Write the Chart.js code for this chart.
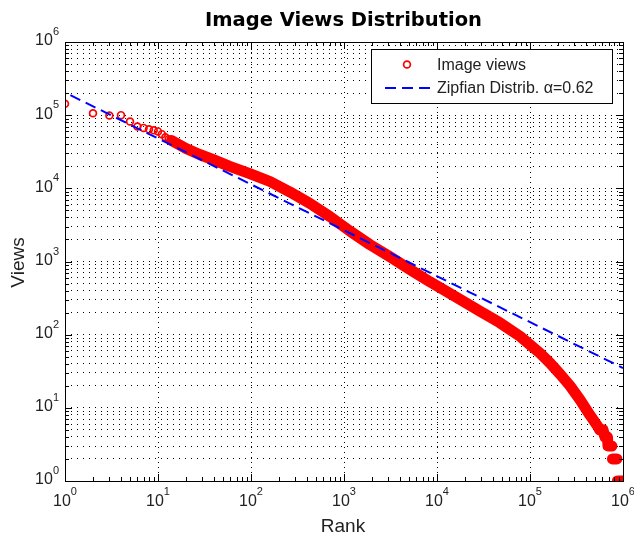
<!DOCTYPE html>
<html>
<head>
<meta charset="utf-8">
<script src="https://cdn.jsdelivr.net/npm/chart.js@4.4.0/dist/chart.umd.min.js"></script>
<style>
    html, body { margin: 0; padding: 0; background: #fff; }
    canvas { display: block; }
</style>
</head>
<body>
<canvas id="graficoViews" width="634" height="535"></canvas>
<script>
// Dados (rank x views)
const headRanks = [1, 2, 3, 4, 5, 6, 7, 8, 9, 10, 11, 12, 13];
const headViews = [143000, 106000, 99000, 100000, 82000, 70000, 67000, 64000, 62000, 60000, 55000, 50000, 47000];

const bodyRanks = [14, 20, 28, 40, 59, 97, 160, 263, 431, 707, 1160, 1900, 3120, 5130, 8400, 13800, 22600, 29000, 34500, 47500, 78000, 100000, 128000, 164000, 210000, 269000, 345000, 440000, 540000, 560000, 610000, 640000, 680000, 690000, 760000, 770000, 860000, 870000, 1000000];
const bodyViews = [45000, 35000, 29000, 24400, 20000, 15900, 12400, 8900, 6200, 4100, 2600, 1700, 1160, 777, 527, 365, 252, 209, 184, 145, 95, 73, 56, 41, 29, 20, 12.9, 8, 5.5, 5, 5, 4, 4, 3, 3, 2, 2, 1, 1];

const zipfRanks = [1, 1000000];
const zipfViews = [204000, 35];

// Eixos (expoentes das décadas e multiplicadores dos ticks menores)
const decadeExps = [0, 1, 2, 3, 4, 5, 6];
const minorMults = [2, 3, 4, 5, 6, 7, 8, 9];

const fonte = '"Liberation Sans", Arial, Helvetica, sans-serif';

function toPoints(xs, ys) {
    return xs.map((x, i) => ({ x: x, y: ys[i] }));
}

function logTicks() {
    const ticks = [];
    decadeExps.forEach(e => {
        ticks.push({ value: Math.pow(10, e), major: true });
        if (e < decadeExps[decadeExps.length - 1]) {
            minorMults.forEach(m => ticks.push({ value: m * Math.pow(10, e), major: false }));
        }
    });
    return ticks;
}

// Moldura, ticks internos, rótulos, título e legenda no estilo MATLAB
const estiloMatlab = {
    id: 'estiloMatlab',
    afterDraw(chart) {
        const { ctx, chartArea: a, scales: { x, y } } = chart;
        ctx.save();

        // caixa
        ctx.strokeStyle = '#000';
        ctx.lineWidth = 1;
        ctx.setLineDash([]);
        ctx.strokeRect(a.left + 0.5, a.top + 0.5, a.right - a.left, a.bottom - a.top);

        // ticks para dentro
        ctx.beginPath();
        x.ticks.forEach(t => {
            const px = Math.round(x.getPixelForValue(t.value)) + 0.5;
            const len = t.major ? 7 : 4;
            ctx.moveTo(px, a.bottom); ctx.lineTo(px, a.bottom - len);
            ctx.moveTo(px, a.top); ctx.lineTo(px, a.top + len);
        });
        y.ticks.forEach(t => {
            const py = Math.round(y.getPixelForValue(t.value)) + 0.5;
            const len = t.major ? 7 : 4;
            ctx.moveTo(a.left, py); ctx.lineTo(a.left + len, py);
            ctx.moveTo(a.right, py); ctx.lineTo(a.right - len, py);
        });
        ctx.stroke();

        // rótulos 10^n
        ctx.fillStyle = '#222';
        ctx.textBaseline = 'middle';
        decadeExps.forEach(e => {
            const exp = String(e);
            ctx.font = '16px ' + fonte;
            const w1 = ctx.measureText('10').width;
            ctx.font = '11px ' + fonte;
            const w2 = ctx.measureText(exp).width;

            const px = x.getPixelForValue(Math.pow(10, e));
            const start = px - (w1 + w2) / 2;
            ctx.textAlign = 'left';
            ctx.font = '16px ' + fonte;
            ctx.fillText('10', start, 502);
            ctx.font = '11px ' + fonte;
            ctx.fillText(exp, start + w1, 492);

            const py = y.getPixelForValue(Math.pow(10, e));
            ctx.textAlign = 'right';
            ctx.fillText(exp, 59, py - 10);
            ctx.font = '16px ' + fonte;
            ctx.fillText('10', 59 - w2, py - 1);
        });

        // título
        ctx.fillStyle = '#000';
        ctx.textAlign = 'center';
        ctx.textBaseline = 'alphabetic';
        ctx.font = 'bold 19.5px "DejaVu Sans", ' + fonte;
        ctx.fillText('Image Views Distribution', 343.5, 26);

        // títulos dos eixos
        ctx.fillStyle = '#222';
        ctx.font = '19px ' + fonte;
        ctx.fillText('Rank', 343, 532);
        ctx.save();
        ctx.translate(24, 262.5);
        ctx.rotate(-Math.PI / 2);
        ctx.fillText('Views', 0, 0);
        ctx.restore();

        // legenda
        const dsViews = chart.data.datasets[1];
        const dsZipf = chart.data.datasets[0];
        ctx.fillStyle = '#fff';
        ctx.fillRect(371.5, 49.5, 241, 54);
        ctx.strokeStyle = '#000';
        ctx.lineWidth = 1;
        ctx.strokeRect(371.5, 49.5, 241, 54);

        ctx.beginPath();
        ctx.strokeStyle = dsViews.pointBorderColor;
        ctx.lineWidth = dsViews.pointBorderWidth;
        ctx.arc(407, 64.5, dsViews.pointRadius, 0, Math.PI * 2);
        ctx.stroke();

        ctx.beginPath();
        ctx.strokeStyle = dsZipf.borderColor;
        ctx.lineWidth = dsZipf.borderWidth;
        ctx.setLineDash(dsZipf.borderDash);
        ctx.moveTo(385, 88);
        ctx.lineTo(433, 88);
        ctx.stroke();
        ctx.setLineDash([]);

        ctx.fillStyle = '#222';
        ctx.textAlign = 'left';
        ctx.textBaseline = 'middle';
        ctx.font = '16px ' + fonte;
        ctx.fillText(dsViews.label, 437, 66);
        ctx.fillText(dsZipf.label, 437, 89);

        ctx.restore();
    }
};

const ctxViews = document.getElementById('graficoViews').getContext('2d');
const graficoViews = new Chart(ctxViews, {
    type: 'line',
    data: {
        datasets: [{
            label: 'Zipfian Distrib. \u03b1=0.62',
            data: toPoints(zipfRanks, zipfViews),
            borderColor: '#0000ff',
            borderWidth: 2,
            borderDash: [11, 6],
            borderDashOffset: 11,
            pointRadius: 0,
            fill: false,
            order: 0
        }, {
            label: 'Image views',
            data: toPoints(headRanks, headViews),
            showLine: false,
            pointStyle: 'circle',
            pointRadius: 3.4,
            pointBorderWidth: 1.7,
            pointBorderColor: '#ff0000',
            pointBackgroundColor: 'rgba(0,0,0,0)',
            order: 1
        }, {
            label: 'Image views (cauda)',
            data: toPoints(bodyRanks, bodyViews),
            borderColor: '#ff0000',
            borderWidth: 11,
            borderCapStyle: 'round',
            borderJoinStyle: 'round',
            pointRadius: 0,
            fill: false,
            order: 2,
            segment: {
                // níveis discretos (3, 2, 1) aparecem como blocos separados
                borderColor: c => {
                    const a = c.p0.parsed.y, b = c.p1.parsed.y;
                    return (a <= 3 && b <= 3 && a !== b) ? 'rgba(0,0,0,0)' : undefined;
                }
            }
        }]
    },
    options: {
        responsive: false,
        animation: false,
        layout: { padding: { top: 42, right: 11, left: 0, bottom: 0 } },
        plugins: {
            legend: { display: false },
            title: { display: false },
            tooltip: { enabled: false }
        },
        scales: {
            x: {
                type: 'logarithmic',
                min: 1,
                max: 1000000,
                afterBuildTicks: s => { s.ticks = logTicks(); },
                afterFit: s => { s.height = 54; },
                ticks: { display: false },
                grid: {
                    color: c => (c.tick && c.tick.major) ? '#000' : 'rgba(0,0,0,0)',
                    lineWidth: 1,
                    drawTicks: false
                },
                border: { display: false, dash: [1, 4] }
            },
            y: {
                type: 'logarithmic',
                min: 1,
                max: 1000000,
                afterBuildTicks: s => { s.ticks = logTicks(); },
                afterFit: s => { s.width = 65; },
                ticks: { display: false },
                grid: {
                    color: '#000',
                    lineWidth: 1,
                    drawTicks: false
                },
                border: { display: false, dash: [1, 5] }
            }
        }
    },
    plugins: [estiloMatlab]
});
</script>
</body>
</html>
